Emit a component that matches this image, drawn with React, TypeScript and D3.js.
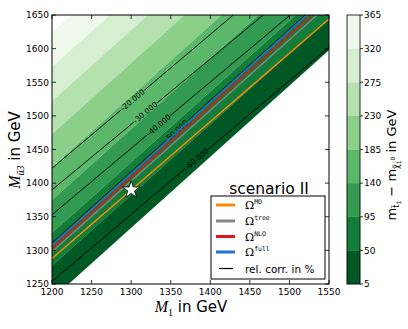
import React from "react";
import * as d3 from "d3";

// axis ticks
const xTicks = [1200, 1250, 1300, 1350, 1400, 1450, 1500, 1550];
const yTicks = [1250, 1300, 1350, 1400, 1450, 1500, 1550, 1600, 1650];

// filled contour levels of m_stop - m_chi (GeV) and where each boundary
// crosses M1 = 1200 and M1 = 1550 (value is M_u3 in GeV)
const levels = [5, 50, 95, 140, 185, 230, 275, 320, 365];
const levelAt1200 = [1228, 1277, 1326, 1375, 1424, 1473, 1522, 1573, 1624];
const levelAt1550 = [1598, 1645, 1694, 1744, 1793, 1843, 1892, 1942, 1991];

// black contours: relative correction in %
const corrValues = [-20, -30, -40, -50, -60];
const corrStart = [[1200, 1422], [1200, 1390], [1200, 1353], [1200, 1311], [1200, 1254]];
const corrEnd = [[1429, 1650], [1467, 1650], [1501, 1650], [1520, 1650], [1550, 1602]];
const corrLabelM1 = [1302, 1318, 1335, 1357, 1383];

// relic density lines
const omegaNames = ["MO", "tree", "NLO", "full"];
const omegaColors = ["#f58a0b", "#858585", "#e0141b", "#1f72d6"];
const omegaStart = [[1200, 1288], [1200, 1298], [1200, 1303], [1200, 1308]];
const omegaEnd = [[1550, 1644], [1535, 1650], [1528, 1650], [1522, 1650]];

const starPoint = [1300, 1390];

const W = 408, H = 329;
const plot = { left: 52, right: 329, top: 15, bottom: 284 };
const cbar = { left: 347, right: 360 };
const font = "DejaVu Sans, sans-serif";

const greens = d3.piecewise(d3.interpolateRgb, [
  "#f7fcf5", "#e5f5e0", "#c7e9c0", "#a1d99b", "#74c476",
  "#41ab5d", "#238b45", "#006d2c", "#00441b",
]);

export default function App() {
  const x = d3.scaleLinear().domain([1200, 1550]).range([plot.left, plot.right]);
  const y = d3.scaleLinear().domain([1250, 1650]).range([plot.bottom, plot.top]);
  const cy = d3.scaleLinear().domain([levels[0], levels[levels.length - 1]]).range([plot.bottom, plot.top]);
  const nb = levels.length - 1;
  const bandColor = (i: number) => greens(1 - (2 * i + 1) / (2 * nb));
  const line = d3.line();

  const bands = d3.range(nb).map((i) => {
    const pts: [number, number][] = [
      [x(1200), y(levelAt1200[i])],
      [x(1550), y(levelAt1550[i])],
      [x(1550), y(levelAt1550[i + 1])],
      [x(1200), y(levelAt1200[i + 1])],
    ];
    return <path key={i} d={line(pts) + "Z"} fill={bandColor(i)} stroke={bandColor(i)} strokeWidth={0.3} />;
  });

  const contours = corrValues.map((v, i) => {
    const p0 = [x(corrStart[i][0]), y(corrStart[i][1])];
    const p1 = [x(corrEnd[i][0]), y(corrEnd[i][1])];
    const dx = p1[0] - p0[0], dy = p1[1] - p0[1];
    const len = Math.hypot(dx, dy);
    const ux = dx / len, uy = dy / len;
    const t = (x(corrLabelM1[i]) - p0[0]) / dx;
    const c = [p0[0] + t * dx, p0[1] + t * dy];
    const gap = 15;
    const ang = (Math.atan2(dy, dx) * 180) / Math.PI;
    return (
      <g key={v}>
        <path d={line([[p0[0], p0[1]], [c[0] - ux * gap, c[1] - uy * gap]]) || ""} stroke="#000" strokeWidth={0.9} fill="none" />
        <path d={line([[c[0] + ux * gap, c[1] + uy * gap], [p1[0], p1[1]]]) || ""} stroke="#000" strokeWidth={0.9} fill="none" />
        <text x={c[0]} y={c[1]} transform={`rotate(${ang},${c[0]},${c[1]})`} textAnchor="middle" dominantBaseline="central"
          fontFamily={font} fontSize={7.5} fill="#000">{v.toFixed(3)}</text>
      </g>
    );
  });

  const omegaLines = omegaNames.map((n, i) => (
    <path key={n} d={line([[x(omegaStart[i][0]), y(omegaStart[i][1])], [x(omegaEnd[i][0]), y(omegaEnd[i][1])]]) || ""}
      stroke={omegaColors[i]} strokeWidth={1.6} fill="none" />
  ));

  const star = d3.symbol(d3.symbolStar, 95)();

  const legX = 211, legY = 196, legW = 114, legH = 83;
  const legRows = [205, 221, 236.5, 252, 268.5];

  return (
    <svg width={W} height={H} style={{ position: "absolute", left: 0, top: 0, background: "#fff" }}>
      <defs>
        <clipPath id="plotClip">
          <rect x={plot.left} y={plot.top} width={plot.right - plot.left} height={plot.bottom - plot.top} />
        </clipPath>
      </defs>
      <g clipPath="url(#plotClip)">
        {bands}
        {contours}
        {omegaLines}
      </g>
      <path d={star || ""} transform={`translate(${x(starPoint[0])},${y(starPoint[1])})`} fill="#fff" stroke="#000" strokeWidth={0.8} />

      {/* legend */}
      <text x={269} y={194} textAnchor="middle" fontFamily={font} fontSize={15.5}>scenario II</text>
      <rect x={legX} y={legY} width={legW} height={legH} fill="#fff" stroke="#000" strokeWidth={1} />
      {omegaNames.map((n, i) => (
        <g key={n}>
          <line x1={216} x2={235} y1={legRows[i]} y2={legRows[i]} stroke={omegaColors[i]} strokeWidth={3} />
          <text x={245} y={legRows[i] + 4} fontFamily="DejaVu Serif, serif" fontSize={11}>
            Ω<tspan fontFamily="DejaVu Sans Mono, monospace" fontSize={6.5} dy={-5}>{n}</tspan>
          </text>
        </g>
      ))}
      <line x1={219} x2={233} y1={legRows[4]} y2={legRows[4]} stroke="#000" strokeWidth={1.2} />
      <text x={245} y={legRows[4] + 4} fontFamily={font} fontSize={10.5}>rel. corr. in %</text>

      {/* frame and ticks */}
      <rect x={plot.left} y={plot.top} width={plot.right - plot.left} height={plot.bottom - plot.top} fill="none" stroke="#000" strokeWidth={1} />
      {xTicks.map((t) => (
        <g key={t}>
          <line x1={x(t)} x2={x(t)} y1={plot.bottom} y2={plot.bottom - 4} stroke="#000" strokeWidth={0.8} />
          <line x1={x(t)} x2={x(t)} y1={plot.top} y2={plot.top + 4} stroke="#000" strokeWidth={0.8} />
          <text x={x(t)} y={295} textAnchor="middle" fontFamily={font} fontSize={9}>{t}</text>
        </g>
      ))}
      {yTicks.map((t) => (
        <g key={t}>
          <line x1={plot.left} x2={plot.left + 4} y1={y(t)} y2={y(t)} stroke="#000" strokeWidth={0.8} />
          <line x1={plot.right} x2={plot.right - 4} y1={y(t)} y2={y(t)} stroke="#000" strokeWidth={0.8} />
          <text x={49} y={y(t) + 3.3} textAnchor="end" fontFamily={font} fontSize={9}>{t}</text>
        </g>
      ))}

      {/* axis labels */}
      <text x={191} y={312} textAnchor="middle" fontSize={15}>
        <tspan fontFamily="Liberation Serif, serif" fontStyle="italic" fontSize={16}>M</tspan>
        <tspan fontFamily="Liberation Serif, serif" fontSize={10} dy={4}>1</tspan>
        <tspan fontFamily={font} dy={-4}>{"  in GeV"}</tspan>
      </text>
      <text transform="translate(20,150) rotate(-90)" textAnchor="middle" fontSize={15}>
        <tspan fontFamily="Liberation Serif, serif" fontStyle="italic" fontSize={16}>M</tspan>
        <tspan fontFamily="Liberation Serif, serif" fontStyle="italic" fontSize={10} dy={4}>ũ3</tspan>
        <tspan fontFamily={font} dy={-4}>{" in GeV"}</tspan>
      </text>

      {/* colorbar */}
      {d3.range(nb).map((i) => (
        <rect key={i} x={cbar.left} width={cbar.right - cbar.left} y={cy(levels[i + 1])} height={cy(levels[i]) - cy(levels[i + 1])}
          fill={bandColor(i)} stroke={bandColor(i)} strokeWidth={0.3} />
      ))}
      <rect x={cbar.left} y={plot.top} width={cbar.right - cbar.left} height={plot.bottom - plot.top} fill="none" stroke="#000" strokeWidth={0.8} />
      {levels.map((l) => (
        <g key={l}>
          <line x1={cbar.right} x2={cbar.right + 3} y1={cy(l)} y2={cy(l)} stroke="#000" strokeWidth={0.8} />
          <text x={364} y={cy(l) + 3.3} fontFamily={font} fontSize={9}>{l}</text>
        </g>
      ))}
      <text transform="translate(396,165) rotate(-90)" textAnchor="middle" fontFamily={font} fontSize={13}>
        m<tspan fontSize={8} dy={3}>t̃</tspan><tspan fontSize={6} dy={2}>1</tspan>
        <tspan dy={-5}>{" − m"}</tspan><tspan fontSize={8} dy={3}>χ̃</tspan><tspan fontSize={6} dy={2}>1</tspan><tspan fontSize={6} dy={-6}>0</tspan>
        <tspan dy={1}>{" in GeV"}</tspan>
      </text>
    </svg>
  );
}
